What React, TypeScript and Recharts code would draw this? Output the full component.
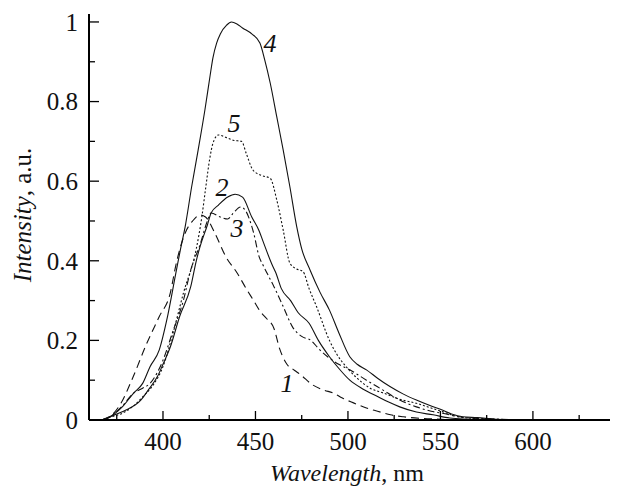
import { LineChart, Line, XAxis, YAxis, ReferenceDot } from 'recharts';

// wavelength (nm) / intensity (a.u.), one pair per curve
const wl1 = [360, 365, 370, 377, 384, 391, 398, 404, 407, 412, 416, 420, 423, 428, 434, 440, 445, 449, 453, 456, 460, 463, 467, 471, 474, 481, 487, 492, 497, 503, 510, 516, 523, 530, 540, 550, 560, 600, 646];
const int1 = [0, 0, 0.005, 0.04, 0.11, 0.19, 0.26, 0.32, 0.39, 0.47, 0.5, 0.515, 0.51, 0.47, 0.41, 0.37, 0.33, 0.3, 0.27, 0.255, 0.23, 0.18, 0.14, 0.125, 0.115, 0.088, 0.075, 0.068, 0.055, 0.043, 0.03, 0.022, 0.013, 0.008, 0.004, 0.002, 0, 0, 0];

const wl2 = [360, 366, 371, 380, 388, 392, 397, 400, 404, 409, 415, 418, 420, 424, 426, 430, 435, 439, 443, 448, 452, 454, 459, 461, 464, 469, 473, 479, 484, 490, 495, 501, 508, 516, 522, 528, 537, 546, 555, 565, 580, 646];
const int2 = [0, 0, 0.008, 0.025, 0.05, 0.075, 0.109, 0.14, 0.184, 0.26, 0.335, 0.4, 0.435, 0.49, 0.52, 0.54, 0.56, 0.567, 0.56, 0.51, 0.475, 0.45, 0.39, 0.37, 0.33, 0.3, 0.27, 0.243, 0.2, 0.159, 0.13, 0.1, 0.078, 0.059, 0.045, 0.033, 0.02, 0.013, 0.005, 0.002, 0, 0];

const wl3 = [360, 368, 372, 378, 384, 389, 393, 397, 400, 405, 411, 415, 420, 424, 426, 431, 435, 438, 442, 444, 449, 452, 454, 460, 465, 470, 475, 480, 484, 489, 495, 501, 510, 519, 528, 537, 545, 551, 560, 570, 580, 600, 646];
const int3 = [0, 0, 0.01, 0.035, 0.067, 0.08, 0.092, 0.12, 0.15, 0.218, 0.3, 0.377, 0.44, 0.5, 0.52, 0.51, 0.505, 0.52, 0.535, 0.53, 0.47, 0.41, 0.39, 0.335, 0.285, 0.234, 0.21, 0.2, 0.18, 0.159, 0.14, 0.126, 0.1, 0.075, 0.05, 0.033, 0.022, 0.017, 0.008, 0.004, 0.002, 0, 0];

const wl4 = [360, 365, 370, 378, 384, 389, 393, 398, 402, 407, 409.5, 412, 415.5, 419, 422.7, 425.4, 427, 429, 431, 434.4, 437, 440, 443, 448, 452.4, 455, 458, 461.5, 465, 468.6, 472.3, 475, 479.5, 485, 490, 495, 501, 505, 510, 516, 522.7, 530, 537, 545, 551, 556, 562, 570, 580, 600, 646];
const int4 = [0, 0, 0.005, 0.033, 0.067, 0.092, 0.134, 0.176, 0.25, 0.37, 0.43, 0.486, 0.586, 0.678, 0.78, 0.863, 0.91, 0.947, 0.97, 0.992, 1.0, 0.995, 0.985, 0.97, 0.947, 0.905, 0.846, 0.762, 0.678, 0.586, 0.486, 0.43, 0.377, 0.32, 0.276, 0.22, 0.159, 0.14, 0.126, 0.105, 0.084, 0.065, 0.05, 0.035, 0.025, 0.015, 0.008, 0.006, 0.002, 0, 0];

const wl5 = [360, 366, 372, 378, 384, 389, 395, 400, 405.4, 411, 418, 421, 423, 425.4, 427, 430, 434, 438, 442.5, 445, 448.6, 453, 458, 461.5, 465, 468.6, 472, 475.7, 479, 483, 490, 494, 499, 505, 512, 519, 528, 537, 545, 551, 558, 565, 580, 600, 646];
const int5 = [0, 0, 0.008, 0.017, 0.035, 0.058, 0.09, 0.134, 0.218, 0.318, 0.43, 0.51, 0.58, 0.66, 0.695, 0.716, 0.71, 0.703, 0.7, 0.67, 0.628, 0.615, 0.607, 0.553, 0.477, 0.394, 0.38, 0.373, 0.33, 0.285, 0.2, 0.165, 0.134, 0.105, 0.08, 0.068, 0.052, 0.042, 0.03, 0.021, 0.01, 0.005, 0.002, 0, 0];

const xTicks = [375, 400, 425, 450, 475, 500, 525, 550, 575, 600, 625];
const yTicks = [0, 0.1, 0.2, 0.3, 0.4, 0.5, 0.6, 0.7, 0.8, 0.9, 1.0];

// curve number labels: [label, wavelength, intensity]
const curveLabels: [string, number, number][] = [
  ['4', 457.8, 0.947],
  ['5', 438.4, 0.746],
  ['2', 431.9, 0.585],
  ['3', 440, 0.482],
  ['1', 467, 0.093],
];

const FONT = 'Liberation Serif, Times New Roman, Times, serif';

const toPoints = (xs: number[], ys: number[]) => xs.map((x, i) => ({ x, y: ys[i] }));

const series = [
  { key: 'c1', data: toPoints(wl1, int1), dash: '8 5' },
  { key: 'c2', data: toPoints(wl2, int2), dash: undefined },
  { key: 'c3', data: toPoints(wl3, int3), dash: '7 3 2 3' },
  { key: 'c4', data: toPoints(wl4, int4), dash: undefined },
  { key: 'c5', data: toPoints(wl5, int5), dash: '2 2' },
];

const XTick = (props: any) => {
  const { x, y, payload } = props;
  const major = payload.value % 50 === 0;
  return (
    <g>
      <line x1={x} x2={x} y1={y} y2={y - (major ? 9 : 5)} stroke="#000" strokeWidth={1.3} />
      {major && (
        <text x={x} y={y + 30} textAnchor="middle" style={{ fontFamily: FONT }} fontSize={25} fill="#111">
          {payload.value}
        </text>
      )}
    </g>
  );
};

const YTick = (props: any) => {
  const { x, y, payload } = props;
  const v = payload.value as number;
  const major = Math.round(v * 10) % 2 === 0;
  const label = v === 0 ? '0' : Math.abs(v - 1) < 1e-6 ? '1' : v.toFixed(1);
  return (
    <g>
      <line x1={x} x2={x + (major ? 10 : 6)} y1={y} y2={y} stroke="#000" strokeWidth={1.3} />
      {major && (
        <text x={x - 11} y={y} dy="0.35em" textAnchor="end" style={{ fontFamily: FONT }} fontSize={25} fill="#111">
          {label}
        </text>
      )}
    </g>
  );
};

export default function App() {
  return (
    <div style={{ position: 'relative', width: 610, height: 478, fontFamily: FONT }}>
      <LineChart width={610} height={478} margin={{ top: 6, right: 0, left: 0, bottom: 0 }}>
        <XAxis
          type="number"
          dataKey="x"
          domain={[360, 646]}
          ticks={xTicks}
          allowDataOverflow
          height={66}
          tickSize={0}
          tickMargin={0}
          tickLine={false}
          tick={<XTick />}
          interval={0}
          axisLine={{ stroke: '#000', strokeWidth: 2 }}
        />
        <YAxis
          type="number"
          dataKey="y"
          domain={[0, 1.02]}
          ticks={yTicks}
          allowDataOverflow
          width={81}
          tickSize={0}
          tickMargin={0}
          tickLine={false}
          tick={<YTick />}
          interval={0}
          axisLine={{ stroke: '#000', strokeWidth: 2 }}
        />
        {series.map((s) => (
          <Line
            key={s.key}
            data={s.data}
            dataKey="y"
            type="monotone"
            stroke="#111"
            strokeWidth={1.1}
            strokeDasharray={s.dash}
            dot={false}
            activeDot={false}
            isAnimationActive={false}
          />
        ))}
        {curveLabels.map(([t, x, y]) => (
          <ReferenceDot
            key={t}
            x={x}
            y={y}
            r={0}
            shape={(p: any) => (
              <text x={p.cx} y={p.cy} dy="0.35em" textAnchor="middle" style={{ fontFamily: FONT }} fontStyle="italic" fontSize={26} fill="#111">
                {t}
              </text>
            )}
          />
        ))}
      </LineChart>
      <div
        style={{
          position: 'absolute',
          left: 339,
          top: 451,
          transform: 'translateX(-50%)',
          whiteSpace: 'nowrap',
          fontSize: 24,
          lineHeight: '28px',
          color: '#111',
        }}
      >
        <i>Wavelength</i>, nm
      </div>
      <div
        style={{
          position: 'absolute',
          left: 15,
          top: 207,
          transform: 'translate(-50%, -50%) rotate(-90deg)',
          whiteSpace: 'nowrap',
          fontSize: 25,
          lineHeight: '28px',
          color: '#111',
        }}
      >
        <i>Intensity</i>, a.u.
      </div>
    </div>
  );
}
